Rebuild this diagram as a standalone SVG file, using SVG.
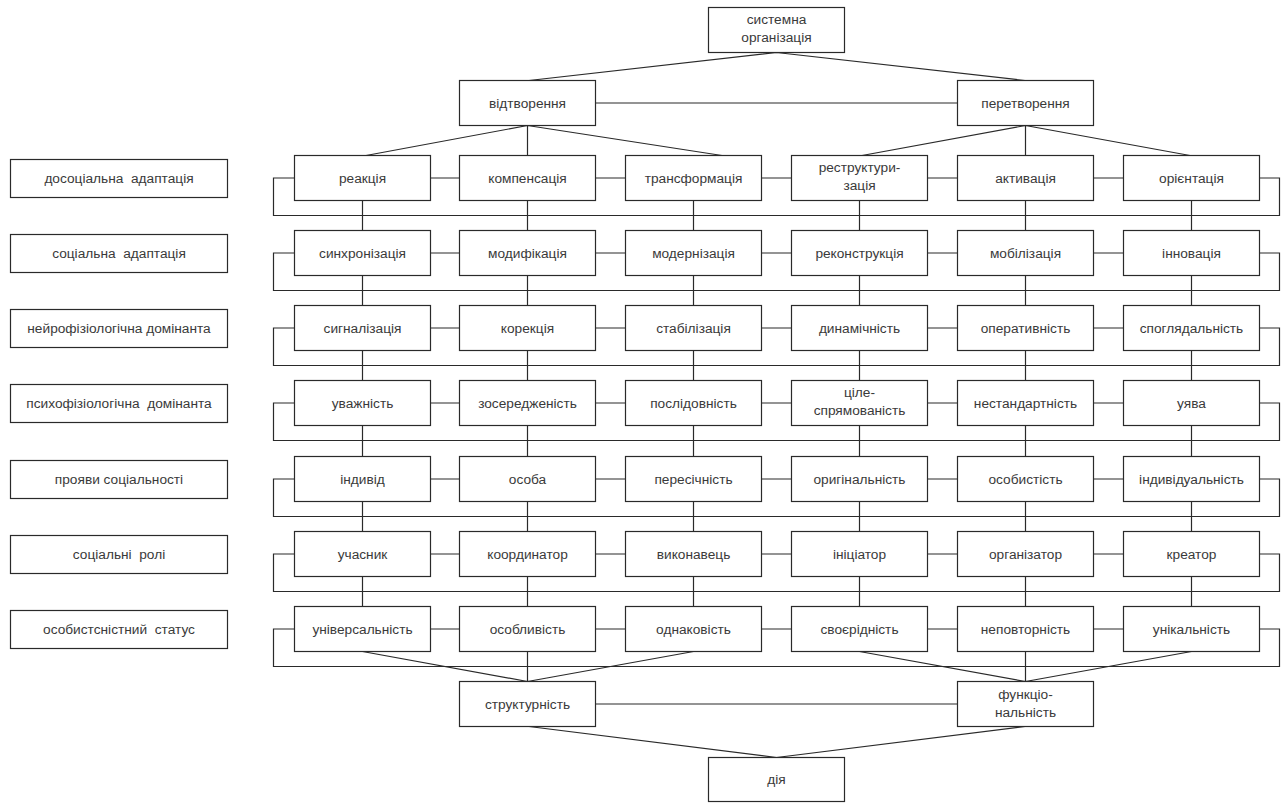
<svg xmlns="http://www.w3.org/2000/svg" width="1287" height="803" viewBox="0 0 1287 803">
<style>
.b{fill:#fff;stroke:#2a2a2a;stroke-width:1.2}
.t{font-family:"Liberation Sans",Arial,sans-serif;font-size:13.7px;fill:#3a3a3a;text-anchor:middle}
.c{fill:none;stroke:#2a2a2a;stroke-width:1.2}
</style>
<rect width="1287" height="803" fill="#fff"/>
<g id="connectors" class="c">
<path d="M776.5 52.5 L529 80.5 M776.5 52.5 L1025 80.5 M595.5 103 H957.5"/>
<path d="M527.5 125.5 L366 155.5 M527.5 125.5 V155.5 M527.5 125.5 L722 155.5 M1025.5 125.5 L862 155.5 M1025.5 125.5 V155.5 M1025.5 125.5 L1190 155.5"/>
<path d="M430.5 178 H459.5 M595.5 178 H625.5 M761.5 178 H791.5 M927.5 178 H957.5 M1093.5 178 H1123.5 M294.5 178 H273.5 V215.5 H1279.5 V178 H1259.5"/>
<path d="M362.5 200.5 V230.5 M527.5 200.5 V230.5 M693.5 200.5 V230.5 M859.5 200.5 V230.5 M1025.5 200.5 V230.5 M1191.5 200.5 V230.5"/>
<path d="M430.5 253 H459.5 M595.5 253 H625.5 M761.5 253 H791.5 M927.5 253 H957.5 M1093.5 253 H1123.5 M294.5 253 H273.5 V290.5 H1279.5 V253 H1259.5"/>
<path d="M362.5 275.5 V305.5 M527.5 275.5 V305.5 M693.5 275.5 V305.5 M859.5 275.5 V305.5 M1025.5 275.5 V305.5 M1191.5 275.5 V305.5"/>
<path d="M430.5 328 H459.5 M595.5 328 H625.5 M761.5 328 H791.5 M927.5 328 H957.5 M1093.5 328 H1123.5 M294.5 328 H273.5 V365.5 H1279.5 V328 H1259.5"/>
<path d="M362.5 350.5 V380.5 M527.5 350.5 V380.5 M693.5 350.5 V380.5 M859.5 350.5 V380.5 M1025.5 350.5 V380.5 M1191.5 350.5 V380.5"/>
<path d="M430.5 403 H459.5 M595.5 403 H625.5 M761.5 403 H791.5 M927.5 403 H957.5 M1093.5 403 H1123.5 M294.5 403 H273.5 V440.5 H1279.5 V403 H1259.5"/>
<path d="M362.5 425.5 V456.5 M527.5 425.5 V456.5 M693.5 425.5 V456.5 M859.5 425.5 V456.5 M1025.5 425.5 V456.5 M1191.5 425.5 V456.5"/>
<path d="M430.5 479 H459.5 M595.5 479 H625.5 M761.5 479 H791.5 M927.5 479 H957.5 M1093.5 479 H1123.5 M294.5 479 H273.5 V516.5 H1279.5 V479 H1259.5"/>
<path d="M362.5 501.5 V531.5 M527.5 501.5 V531.5 M693.5 501.5 V531.5 M859.5 501.5 V531.5 M1025.5 501.5 V531.5 M1191.5 501.5 V531.5"/>
<path d="M430.5 554 H459.5 M595.5 554 H625.5 M761.5 554 H791.5 M927.5 554 H957.5 M1093.5 554 H1123.5 M294.5 554 H273.5 V591.5 H1279.5 V554 H1259.5"/>
<path d="M362.5 576.5 V606.5 M527.5 576.5 V606.5 M693.5 576.5 V606.5 M859.5 576.5 V606.5 M1025.5 576.5 V606.5 M1191.5 576.5 V606.5"/>
<path d="M430.5 629 H459.5 M595.5 629 H625.5 M761.5 629 H791.5 M927.5 629 H957.5 M1093.5 629 H1123.5 M294.5 629 H273.5 V666.5 H1279.5 V629 H1259.5"/>
<path d="M362.5 651.5 L527.5 681.5 M527.5 651.5 V681.5 M693.5 651.5 L527.5 681.5 M859.5 651.5 L1025.5 681.5 M1025.5 651.5 V681.5 M1191.5 651.5 L1025.5 681.5"/>
<path d="M595.5 704 H957.5 M529 726.5 L776.5 757.5 M1025 726.5 L776.5 757.5"/>
</g>
<g id="top"><rect class="b" x="708.5" y="7.5" width="136" height="45"/><text class="t" x="776.5" y="24">системна</text><text class="t" x="776.5" y="42">організація</text></g>
<g id="vidtvorennia"><rect class="b" x="459.5" y="80.5" width="136" height="45"/><text class="t" x="527.5" y="107.5">відтворення</text></g>
<g id="peretvorennia"><rect class="b" x="957.5" y="80.5" width="136" height="45"/><text class="t" x="1025.5" y="107.5">перетворення</text></g>
<g id="labels">
<g id="l1"><rect class="b" x="10.5" y="159.5" width="217" height="38"/><text class="t" x="119" y="183" xml:space="preserve">досоціальна  адаптація</text></g>
<g id="l2"><rect class="b" x="10.5" y="234.5" width="217" height="38"/><text class="t" x="119" y="258" xml:space="preserve">соціальна  адаптація</text></g>
<g id="l3"><rect class="b" x="10.5" y="309.5" width="217" height="38"/><text class="t" x="119" y="333">нейрофізіологічна домінанта</text></g>
<g id="l4"><rect class="b" x="10.5" y="384.5" width="217" height="38"/><text class="t" x="119" y="408" xml:space="preserve">психофізіологічна  домінанта</text></g>
<g id="l5"><rect class="b" x="10.5" y="460.5" width="217" height="38"/><text class="t" x="119" y="484">прояви соціальності</text></g>
<g id="l6"><rect class="b" x="10.5" y="535.5" width="217" height="38"/><text class="t" x="119" y="559" xml:space="preserve">соціальні  ролі</text></g>
<g id="l7"><rect class="b" x="10.5" y="610.5" width="217" height="38"/><text class="t" x="119" y="634" xml:space="preserve">особистснiстний  статус</text></g>
</g>
<g id="r1">
<g id="n11"><rect class="b" x="294.5" y="155.5" width="136" height="45"/><text class="t" x="362.5" y="182.5">реакція</text></g>
<g id="n12"><rect class="b" x="459.5" y="155.5" width="136" height="45"/><text class="t" x="527.5" y="182.5">компенсація</text></g>
<g id="n13"><rect class="b" x="625.5" y="155.5" width="136" height="45"/><text class="t" x="693.5" y="182.5">трансформація</text></g>
<g id="n14"><rect class="b" x="791.5" y="155.5" width="136" height="45"/><text class="t" x="859.5" y="172">реструктури-</text><text class="t" x="859.5" y="190">зація</text></g>
<g id="n15"><rect class="b" x="957.5" y="155.5" width="136" height="45"/><text class="t" x="1025.5" y="182.5">активація</text></g>
<g id="n16"><rect class="b" x="1123.5" y="155.5" width="136" height="45"/><text class="t" x="1191.5" y="182.5">орієнтація</text></g>
</g>
<g id="r2">
<g id="n21"><rect class="b" x="294.5" y="230.5" width="136" height="45"/><text class="t" x="362.5" y="257.5">синхронізація</text></g>
<g id="n22"><rect class="b" x="459.5" y="230.5" width="136" height="45"/><text class="t" x="527.5" y="257.5">модифікація</text></g>
<g id="n23"><rect class="b" x="625.5" y="230.5" width="136" height="45"/><text class="t" x="693.5" y="257.5">модернізація</text></g>
<g id="n24"><rect class="b" x="791.5" y="230.5" width="136" height="45"/><text class="t" x="859.5" y="257.5">реконструкція</text></g>
<g id="n25"><rect class="b" x="957.5" y="230.5" width="136" height="45"/><text class="t" x="1025.5" y="257.5">мобілізація</text></g>
<g id="n26"><rect class="b" x="1123.5" y="230.5" width="136" height="45"/><text class="t" x="1191.5" y="257.5">інновація</text></g>
</g>
<g id="r3">
<g id="n31"><rect class="b" x="294.5" y="305.5" width="136" height="45"/><text class="t" x="362.5" y="332.5">сигналізація</text></g>
<g id="n32"><rect class="b" x="459.5" y="305.5" width="136" height="45"/><text class="t" x="527.5" y="332.5">корекція</text></g>
<g id="n33"><rect class="b" x="625.5" y="305.5" width="136" height="45"/><text class="t" x="693.5" y="332.5">стабілізація</text></g>
<g id="n34"><rect class="b" x="791.5" y="305.5" width="136" height="45"/><text class="t" x="859.5" y="332.5">динамічність</text></g>
<g id="n35"><rect class="b" x="957.5" y="305.5" width="136" height="45"/><text class="t" x="1025.5" y="332.5">оперативність</text></g>
<g id="n36"><rect class="b" x="1123.5" y="305.5" width="136" height="45"/><text class="t" x="1191.5" y="332.5">споглядальність</text></g>
</g>
<g id="r4">
<g id="n41"><rect class="b" x="294.5" y="380.5" width="136" height="45"/><text class="t" x="362.5" y="407.5">уважність</text></g>
<g id="n42"><rect class="b" x="459.5" y="380.5" width="136" height="45"/><text class="t" x="527.5" y="407.5">зосередженість</text></g>
<g id="n43"><rect class="b" x="625.5" y="380.5" width="136" height="45"/><text class="t" x="693.5" y="407.5">послідовність</text></g>
<g id="n44"><rect class="b" x="791.5" y="380.5" width="136" height="45"/><text class="t" x="859.5" y="397">ціле-</text><text class="t" x="859.5" y="415">спрямованість</text></g>
<g id="n45"><rect class="b" x="957.5" y="380.5" width="136" height="45"/><text class="t" x="1025.5" y="407.5">нестандартність</text></g>
<g id="n46"><rect class="b" x="1123.5" y="380.5" width="136" height="45"/><text class="t" x="1191.5" y="407.5">уява</text></g>
</g>
<g id="r5">
<g id="n51"><rect class="b" x="294.5" y="456.5" width="136" height="45"/><text class="t" x="362.5" y="483.5">індивід</text></g>
<g id="n52"><rect class="b" x="459.5" y="456.5" width="136" height="45"/><text class="t" x="527.5" y="483.5">особа</text></g>
<g id="n53"><rect class="b" x="625.5" y="456.5" width="136" height="45"/><text class="t" x="693.5" y="483.5">пересічність</text></g>
<g id="n54"><rect class="b" x="791.5" y="456.5" width="136" height="45"/><text class="t" x="859.5" y="483.5">оригінальність</text></g>
<g id="n55"><rect class="b" x="957.5" y="456.5" width="136" height="45"/><text class="t" x="1025.5" y="483.5">особистість</text></g>
<g id="n56"><rect class="b" x="1123.5" y="456.5" width="136" height="45"/><text class="t" x="1191.5" y="483.5">індивідуальність</text></g>
</g>
<g id="r6">
<g id="n61"><rect class="b" x="294.5" y="531.5" width="136" height="45"/><text class="t" x="362.5" y="558.5">учасник</text></g>
<g id="n62"><rect class="b" x="459.5" y="531.5" width="136" height="45"/><text class="t" x="527.5" y="558.5">координатор</text></g>
<g id="n63"><rect class="b" x="625.5" y="531.5" width="136" height="45"/><text class="t" x="693.5" y="558.5">виконавець</text></g>
<g id="n64"><rect class="b" x="791.5" y="531.5" width="136" height="45"/><text class="t" x="859.5" y="558.5">ініціатор</text></g>
<g id="n65"><rect class="b" x="957.5" y="531.5" width="136" height="45"/><text class="t" x="1025.5" y="558.5">організатор</text></g>
<g id="n66"><rect class="b" x="1123.5" y="531.5" width="136" height="45"/><text class="t" x="1191.5" y="558.5">креатор</text></g>
</g>
<g id="r7">
<g id="n71"><rect class="b" x="294.5" y="606.5" width="136" height="45"/><text class="t" x="362.5" y="633.5">універсальність</text></g>
<g id="n72"><rect class="b" x="459.5" y="606.5" width="136" height="45"/><text class="t" x="527.5" y="633.5">особливість</text></g>
<g id="n73"><rect class="b" x="625.5" y="606.5" width="136" height="45"/><text class="t" x="693.5" y="633.5">однаковість</text></g>
<g id="n74"><rect class="b" x="791.5" y="606.5" width="136" height="45"/><text class="t" x="859.5" y="633.5">своєрідність</text></g>
<g id="n75"><rect class="b" x="957.5" y="606.5" width="136" height="45"/><text class="t" x="1025.5" y="633.5">неповторність</text></g>
<g id="n76"><rect class="b" x="1123.5" y="606.5" width="136" height="45"/><text class="t" x="1191.5" y="633.5">унікальність</text></g>
</g>
<g id="strukturnist"><rect class="b" x="459.5" y="681.5" width="136" height="45"/><text class="t" x="527.5" y="708.5">структурність</text></g>
<g id="funktsionalnist"><rect class="b" x="957.5" y="681.5" width="136" height="45"/><text class="t" x="1025.5" y="699">функціо-</text><text class="t" x="1025.5" y="717">нальність</text></g>
<g id="diia"><rect class="b" x="708.5" y="757.5" width="136" height="44"/><text class="t" x="776.5" y="784">дія</text></g>
</svg>
